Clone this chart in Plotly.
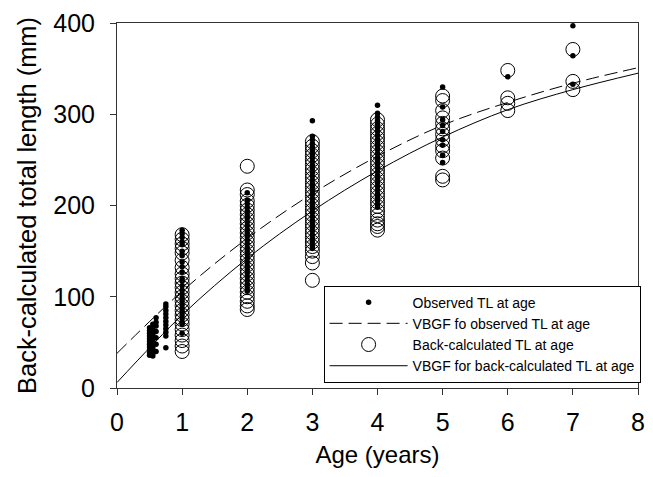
import plotly.graph_objects as go

# ---- data ----
obs_ages = [0.5, 0.55, 0.6, 0.75, 1, 2, 3, 4, 5, 6, 7]
obs_tl = [
    [36, 39, 42, 45, 48, 51, 54, 57, 60, 63, 66],
    [35, 38, 41, 44, 47, 50, 53, 56, 59, 62, 66, 70],
    [40, 48, 55, 62, 68, 72, 77],
    [44, 57, 61, 65, 69, 73, 77, 81, 85, 89, 92],
    [173, 169, 165, 160, 157, 150, 145, 138, 133, 127, 120, 117, 112, 107, 103, 99, 95, 91, 87, 84, 80, 76, 72, 70, 60],
    [214, 206, 202, 198, 194, 190, 186, 182, 178, 174, 170, 166, 162, 158, 154, 150, 146, 142, 138, 134, 130, 126, 122, 118, 114, 110, 106],
    [293, 276, 272, 268, 264, 260, 256, 252, 248, 244, 240, 236, 232, 228, 224, 220, 216, 212, 208, 204, 200, 196, 192, 188, 184, 180, 176, 172, 168, 164, 160, 156, 153],
    [310, 301, 297, 293, 289, 285, 281, 277, 273, 269, 265, 261, 257, 253, 249, 245, 241, 237, 233, 229, 225, 221, 217, 213, 209, 205, 201, 198],
    [330, 308, 294, 288, 281, 272, 266, 255, 247],
    [341],
    [397, 364, 333],
]

bc_ages = [1, 2, 3, 4, 5, 6, 7]
bc_tl = [
    [168, 163, 158, 153, 148, 140, 132, 125, 120, 115, 110, 105, 100, 95, 90, 85, 80, 75, 70, 64, 58, 52, 46, 40],
    [243, 217, 212, 205, 200, 195, 190, 185, 180, 175, 170, 165, 160, 155, 150, 145, 140, 135, 130, 125, 120, 115, 110, 105, 100, 95, 90, 86],
    [270, 265, 260, 255, 250, 245, 240, 235, 230, 225, 220, 215, 210, 205, 200, 195, 190, 185, 180, 175, 170, 165, 160, 155, 150, 144, 137, 118],
    [294, 289, 284, 279, 274, 269, 264, 259, 254, 249, 244, 239, 234, 229, 224, 219, 214, 209, 204, 199, 194, 189, 184, 180, 177, 173],
    [320, 315, 304, 296, 290, 284, 278, 272, 265, 260, 252, 232, 228],
    [348, 318, 312, 304],
    [371, 336, 327],
]

curve_age = [0, 1, 2, 3, 4, 5, 6, 7, 8]
vbgf_obs = [38, 106, 164, 213, 254, 288, 313, 334, 351]
vbgf_bc = [6, 80, 142, 194, 238, 275, 305, 327, 345]

x_ticks = [0, 1, 2, 3, 4, 5, 6, 7, 8]
y_ticks = [0, 100, 200, 300, 400]

# ---- flatten ----
obs_x, obs_y = [], []
for a, vals in zip(obs_ages, obs_tl):
    obs_x += [a] * len(vals)
    obs_y += vals
bc_x, bc_y = [], []
for a, vals in zip(bc_ages, bc_tl):
    bc_x += [a] * len(vals)
    bc_y += vals

FONT = "Liberation Sans, Arial, sans-serif"

fig = go.Figure()
fig.add_trace(go.Scatter(
    x=curve_age, y=vbgf_obs, mode="lines", line_shape="spline",
    line=dict(color="black", width=1, dash="13px,6px"),
    name="VBGF fo observed TL at age", legendrank=2))
fig.add_trace(go.Scatter(
    x=curve_age, y=vbgf_bc, mode="lines", line_shape="spline",
    line=dict(color="black", width=1),
    name="VBGF for back-calculated TL at age", legendrank=4))
fig.add_trace(go.Scatter(
    x=bc_x, y=bc_y, mode="markers",
    marker=dict(symbol="circle-open", size=14, color="black", line=dict(width=1, color="black")),
    name="Back-calculated TL at age", legendrank=3))
fig.add_trace(go.Scatter(
    x=obs_x, y=obs_y, mode="markers",
    marker=dict(symbol="circle", size=5.5, color="black"),
    name="Observed TL at age", legendrank=1))

axis_common = dict(
    showgrid=False, zeroline=False, showline=True, linecolor="#333", linewidth=1,
    mirror=True, ticks="outside", ticklen=6, tickcolor="#333", tickwidth=1,
    tickfont=dict(family=FONT, size=25, color="black"),
)
fig.update_xaxes(range=[0, 8], tickvals=x_ticks, ticklabelstandoff=6,
                 title=dict(text="Age (years)", font=dict(family=FONT, size=24, color="black"), standoff=11),
                 **axis_common)
fig.update_yaxes(range=[0, 400], tickvals=y_ticks, ticklabelstandoff=10,
                 title=dict(text="Back-calculated total length (mm)", font=dict(family=FONT, size=25.4, color="black"), standoff=9),
                 **axis_common)

fig.update_layout(
    width=645, height=469,
    margin=dict(l=109, r=15, t=15, b=89, autoexpand=False),
    paper_bgcolor="white", plot_bgcolor="white",
    font=dict(family=FONT, color="black"),
    legend=dict(
        x=1.005, y=0.015, xanchor="right", yanchor="bottom",
        bgcolor="white", bordercolor="black", borderwidth=1,
        font=dict(family=FONT, size=14, color="black"),
        itemwidth=78, tracegroupgap=0,
    ),
)

fig.write_html("out.html")
